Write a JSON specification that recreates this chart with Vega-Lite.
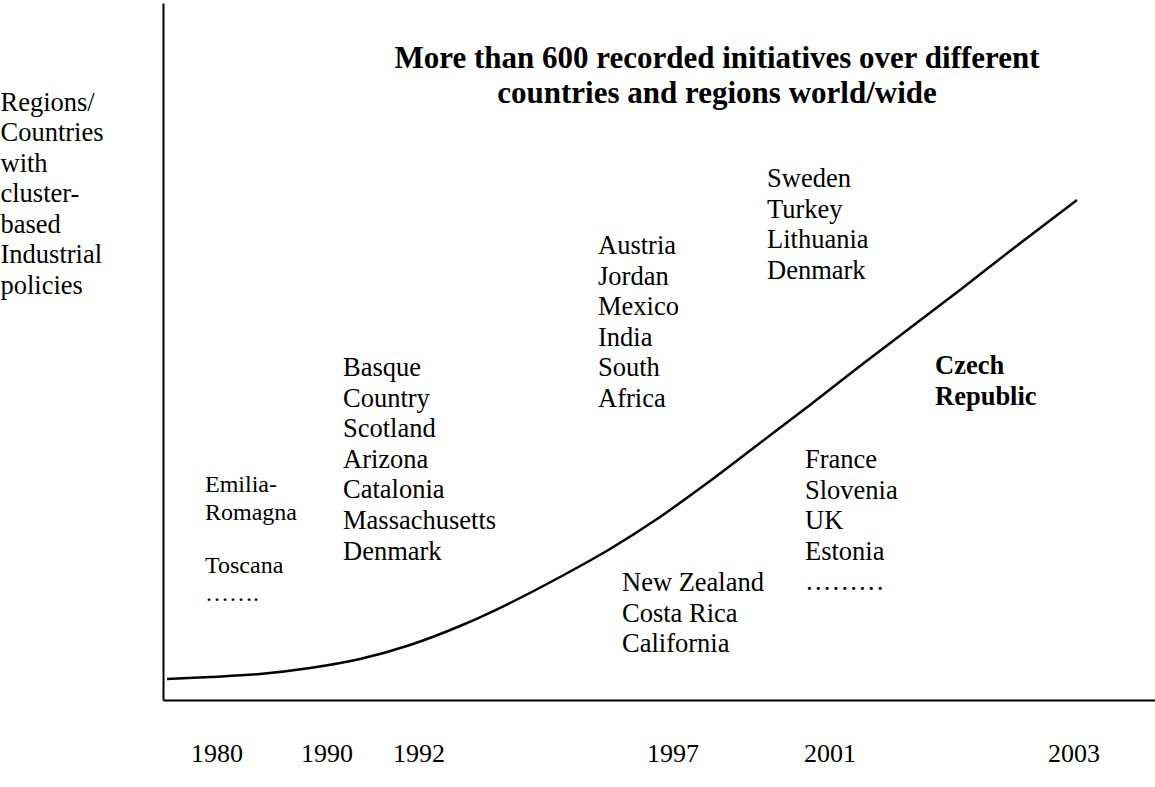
{
  "$schema": "https://vega.github.io/schema/vega-lite/v6.json",
  "width": 992,
  "height": 697,
  "autosize": {"type": "none"},
  "padding": {"left": 163, "top": 3, "right": 0, "bottom": 87},
  "background": "white",
  "config": {"view": {"stroke": null}, "font": "Liberation Serif"},
  "datasets": {
    "curve": [
      {"x": 4, "y": 21}, {"x": 47, "y": 23}, {"x": 97, "y": 26}, {"x": 147, "y": 32},
      {"x": 197, "y": 41}, {"x": 247, "y": 55}, {"x": 297, "y": 74}, {"x": 347, "y": 97},
      {"x": 397, "y": 123}, {"x": 447, "y": 151}, {"x": 497, "y": 183}, {"x": 547, "y": 219},
      {"x": 597, "y": 257}, {"x": 647, "y": 295}, {"x": 697, "y": 334}, {"x": 747, "y": 372},
      {"x": 797, "y": 410}, {"x": 847, "y": 449}, {"x": 914, "y": 500}
    ],
    "labels": [
      {"x": 42, "y": 208, "kind": "early", "text": "Emilia-\nRomagna"},
      {"x": 42, "y": 127, "kind": "early", "text": "Toscana\n……."},
      {"x": 180, "y": 324, "kind": "main", "text": "Basque\nCountry\nScotland\nArizona\nCatalonia\nMassachusetts\nDenmark"},
      {"x": 435, "y": 446, "kind": "main", "text": "Austria\nJordan\nMexico\nIndia\nSouth\nAfrica"},
      {"x": 604, "y": 513, "kind": "main", "text": "Sweden\nTurkey\nLithuania\nDenmark"},
      {"x": 772, "y": 326, "kind": "highlight", "text": "Czech\nRepublic"},
      {"x": 642, "y": 232, "kind": "main", "text": "France\nSlovenia\nUK\nEstonia\n………"},
      {"x": 459, "y": 109, "kind": "main", "text": "New Zealand\nCosta Rica\nCalifornia"}
    ],
    "years": [
      {"x": 54, "year": "1980"}, {"x": 164, "year": "1990"}, {"x": 256, "year": "1992"},
      {"x": 510, "year": "1997"}, {"x": 667, "year": "2001"}, {"x": 911, "year": "2003"}
    ],
    "heading": [
      {"x": 554, "y": 632, "text": "More than 600 recorded initiatives over different\ncountries and regions world/wide"}
    ]
  },
  "encoding": {
    "x": {
      "field": "x", "type": "quantitative",
      "scale": {"domain": [0, 992], "nice": false, "zero": false},
      "axis": {"title": null, "labels": false, "ticks": false, "grid": false, "domainColor": "black", "domainWidth": 2}
    }
  },
  "layer": [
    {
      "data": {"name": "curve"},
      "mark": {"type": "line", "interpolate": "monotone", "color": "black", "strokeWidth": 2.5},
      "encoding": {
        "y": {
          "field": "y", "type": "quantitative",
          "scale": {"domain": [0, 697], "nice": false, "zero": false},
          "axis": {
            "title": ["Regions/", "Countries", "with", "cluster-", "based", "Industrial", "policies"],
            "titleAngle": 0, "titleAlign": "left", "titleBaseline": "alphabetic",
            "titleX": -163, "titleY": 107, "titleFont": "Liberation Serif", "titleFontSize": 26.5,
            "titleFontWeight": "normal", "titleColor": "black", "titleLineHeight": 30.5,
            "labels": false, "ticks": false, "grid": false, "domainColor": "black", "domainWidth": 2
          }
        }
      }
    },
    {
      "data": {"name": "labels"},
      "transform": [{"filter": "datum.kind === 'main'"}],
      "mark": {"type": "text", "align": "left", "baseline": "alphabetic", "font": "Liberation Serif", "fontSize": 26.5, "lineBreak": "\n", "lineHeight": 30.6, "color": "black"},
      "encoding": {
        "y": {"field": "y", "type": "quantitative", "scale": {"domain": [0, 697], "nice": false, "zero": false}},
        "text": {"field": "text"}
      }
    },
    {
      "data": {"name": "labels"},
      "transform": [{"filter": "datum.kind === 'early'"}],
      "mark": {"type": "text", "align": "left", "baseline": "alphabetic", "font": "Liberation Serif", "fontSize": 24, "lineBreak": "\n", "lineHeight": 27.5, "color": "black"},
      "encoding": {
        "y": {"field": "y", "type": "quantitative", "scale": {"domain": [0, 697], "nice": false, "zero": false}},
        "text": {"field": "text"}
      }
    },
    {
      "data": {"name": "labels"},
      "transform": [{"filter": "datum.kind === 'highlight'"}],
      "mark": {"type": "text", "align": "left", "baseline": "alphabetic", "font": "Liberation Serif", "fontSize": 26.5, "fontWeight": "bold", "lineBreak": "\n", "lineHeight": 31, "color": "black"},
      "encoding": {
        "y": {"field": "y", "type": "quantitative", "scale": {"domain": [0, 697], "nice": false, "zero": false}},
        "text": {"field": "text"}
      }
    },
    {
      "data": {"name": "heading"},
      "mark": {"type": "text", "align": "center", "baseline": "alphabetic", "font": "Liberation Serif", "fontSize": 31, "fontWeight": "bold", "lineBreak": "\n", "lineHeight": 35, "color": "black"},
      "encoding": {
        "y": {"field": "y", "type": "quantitative", "scale": {"domain": [0, 697], "nice": false, "zero": false}},
        "text": {"field": "text"}
      }
    },
    {
      "data": {"name": "years"},
      "mark": {"type": "text", "align": "center", "baseline": "alphabetic", "font": "Liberation Serif", "fontSize": 26, "color": "black"},
      "encoding": {
        "y": {"datum": -62, "type": "quantitative", "scale": {"domain": [0, 697], "nice": false, "zero": false}},
        "text": {"field": "year"}
      }
    }
  ]
}
